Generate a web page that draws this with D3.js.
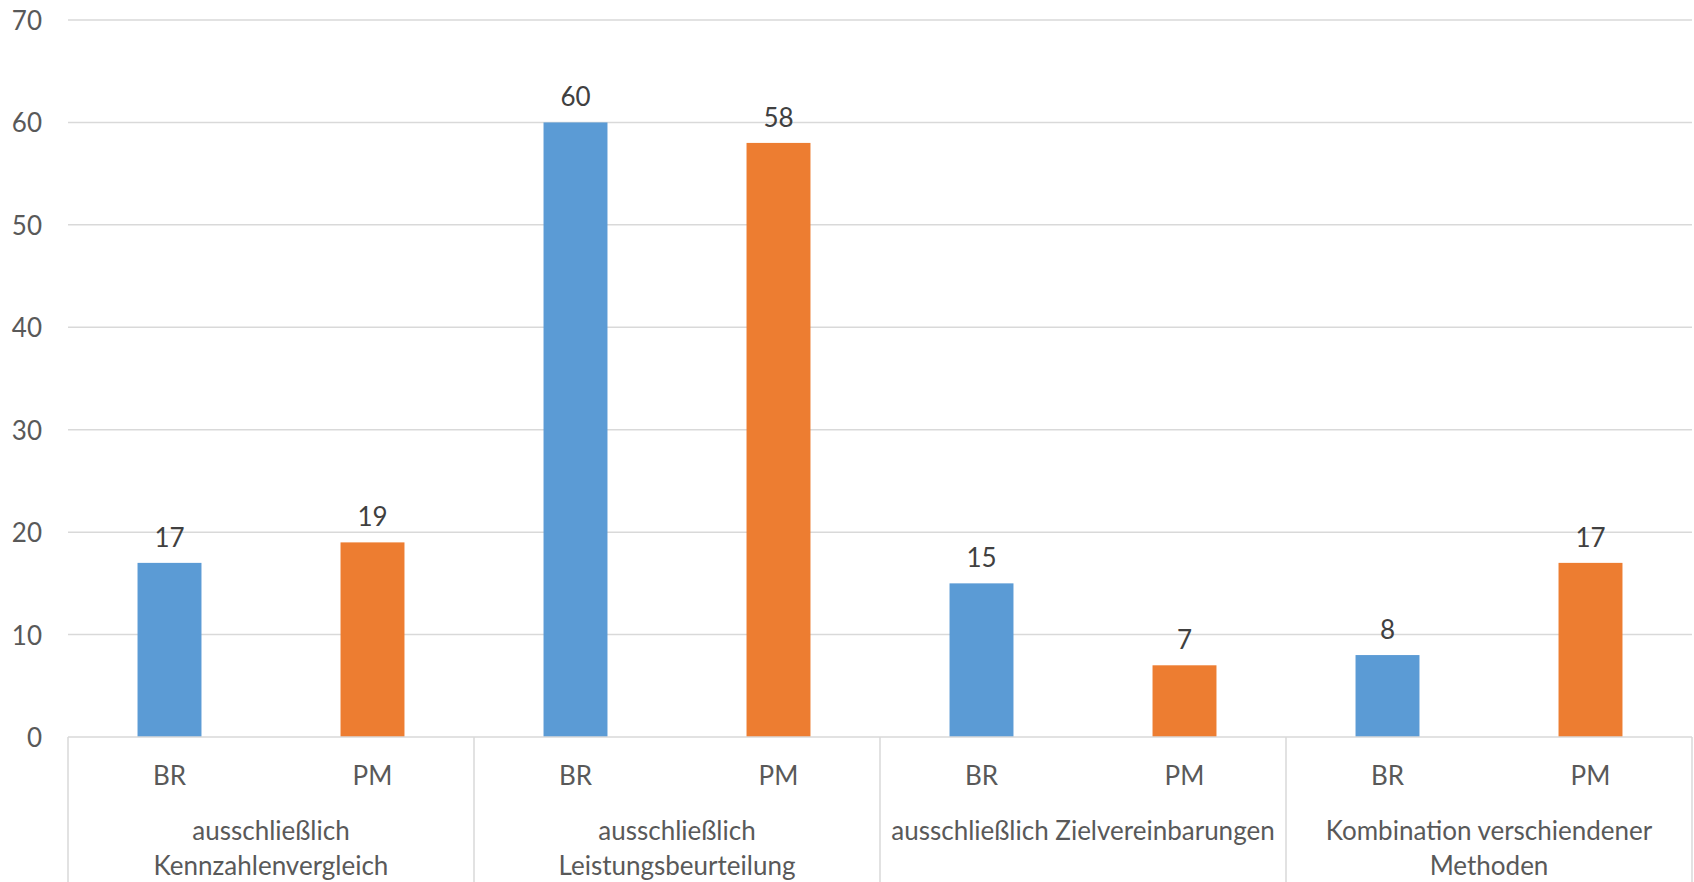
<!DOCTYPE html>
<html>
<head>
<meta charset="utf-8">
<script src="https://cdn.jsdelivr.net/npm/d3@7"></script>
<style>
  html, body { margin: 0; padding: 0; background: #fff; }
  svg { display: block; }
</style>
</head>
<body>
<div id="chart"></div>
<script>
// Grouped bars: BR vs PM per evaluation method
const categories = [
  "ausschließlich\nKennzahlenvergleich",
  "ausschließlich\nLeistungsbeurteilung",
  "ausschließlich Zielvereinbarungen",
  "Kombination verschiendener\nMethoden"
];
const series   = ["BR", "PM"];
const brValues = [17, 60, 15, 8];
const pmValues = [19, 58, 7, 17];
const yTicks   = [0, 10, 20, 30, 40, 50, 60, 70];

const COLORS = { BR: "#5B9BD5", PM: "#ED7D31" };
const FONT   = "Lato, 'Open Sans', sans-serif";
const FS     = "26px";

const W = 1694, H = 882;
const m = { top: 20, right: 2, bottom: 145, left: 68 };
const iw = W - m.left - m.right;
const ih = H - m.top - m.bottom;

const rows = categories.map((c, i) => ({ cat: c, BR: brValues[i], PM: pmValues[i] }));

const x0 = d3.scaleBand().domain(d3.range(categories.length)).range([0, iw]).padding(0);
const x1 = d3.scaleBand().domain(series).range([0, x0.bandwidth()]);
const barW = x1.bandwidth() * 0.315;
const y  = d3.scaleLinear().domain([0, 70]).range([ih, 0]);

const svg = d3.select("#chart").append("svg")
  .attr("width", W).attr("height", H);

const g = svg.append("g").attr("transform", `translate(${m.left},${m.top})`);

// Grid lines
g.selectAll("line.grid").data(yTicks.filter(t => t > 0)).join("line")
  .attr("class", "grid")
  .attr("x1", 0).attr("x2", iw)
  .attr("y1", d => y(d)).attr("y2", d => y(d))
  .attr("stroke", "#d9d9d9").attr("stroke-width", 1.5);

// Y tick labels
g.selectAll("text.ytick").data(yTicks).join("text")
  .attr("class", "ytick")
  .attr("x", -26).attr("y", d => y(d))
  .attr("text-anchor", "end").attr("dominant-baseline", "central")
  .attr("fill", "#595959").attr("font-size", FS).attr("font-family", FONT)
  .text(d => d);

// Bars
const groups = g.selectAll("g.cat").data(rows).join("g")
  .attr("class", "cat")
  .attr("transform", (d, i) => `translate(${x0(i)},0)`);

groups.selectAll("rect").data(d => series.map(s => ({ s, v: d[s] }))).join("rect")
  .attr("x", d => x1(d.s) + (x1.bandwidth() - barW) / 2)
  .attr("y", d => y(d.v))
  .attr("width", barW)
  .attr("height", d => ih - y(d.v))
  .attr("fill", d => COLORS[d.s]);

// Value labels
groups.selectAll("text.val").data(d => series.map(s => ({ s, v: d[s] }))).join("text")
  .attr("class", "val")
  .attr("x", d => x1(d.s) + x1.bandwidth() / 2)
  .attr("y", d => y(d.v) - 26)
  .attr("text-anchor", "middle").attr("dominant-baseline", "central")
  .attr("fill", "#404040").attr("font-size", FS).attr("font-family", FONT)
  .text(d => d.v);

// Axis baseline and category separators
g.append("line")
  .attr("x1", 0).attr("x2", iw).attr("y1", ih).attr("y2", ih)
  .attr("stroke", "#d9d9d9").attr("stroke-width", 1.5);

g.selectAll("line.sep").data(d3.range(categories.length + 1)).join("line")
  .attr("class", "sep")
  .attr("x1", i => i < categories.length ? x0(i) : iw)
  .attr("x2", i => i < categories.length ? x0(i) : iw)
  .attr("y1", ih).attr("y2", H - m.top)
  .attr("stroke", "#d9d9d9").attr("stroke-width", 1.5);

// Series labels under bars
groups.selectAll("text.ser").data(series).join("text")
  .attr("class", "ser")
  .attr("x", s => x1(s) + x1.bandwidth() / 2)
  .attr("y", ih + 38)
  .attr("text-anchor", "middle").attr("dominant-baseline", "central")
  .attr("fill", "#595959").attr("font-size", FS).attr("font-family", FONT)
  .text(s => s);

// Category labels
groups.each(function (d) {
  const lines = d.cat.split("\n");
  const t = d3.select(this).append("text")
    .attr("text-anchor", "middle")
    .attr("fill", "#595959").attr("font-size", FS).attr("font-family", FONT);
  lines.forEach((ln, k) => {
    t.append("tspan")
      .attr("x", x0.bandwidth() / 2)
      .attr("y", ih + 93 + k * 35)
      .attr("dominant-baseline", "central")
      .text(ln);
  });
});
</script>
</body>
</html>
